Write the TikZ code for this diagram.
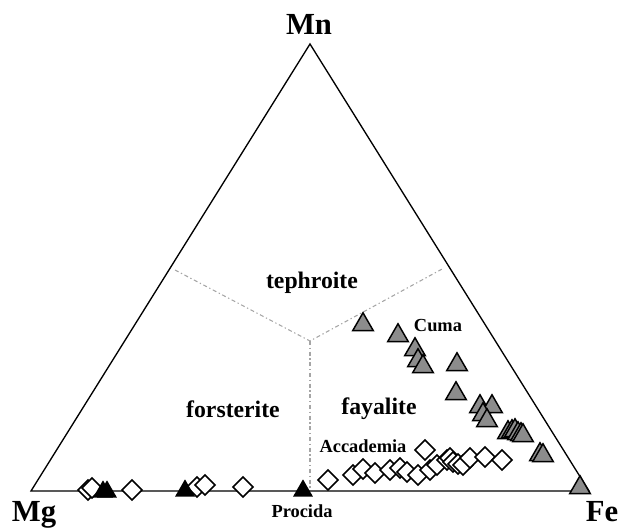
\documentclass[tikz,border=0pt]{standalone}
\usepackage{fontspec}
\setmainfont{Liberation Serif}
\usetikzlibrary{shapes.geometric}

\definecolor{triGray}{RGB}{140,140,140}
\definecolor{fieldLine}{RGB}{165,165,165}

\tikzset{
  dmark/.style={diamond, draw=black, fill=white, line width=1.1pt, inner sep=0pt, minimum width=15.5pt, minimum height=15.5pt},
  gmark/.style={regular polygon, regular polygon sides=3, draw=black, fill=triGray, line width=1.1pt, inner sep=0pt, minimum size=17.8pt, yshift=-2pt},
  bmark/.style={gmark, fill=black, minimum size=15pt, yshift=-1.6pt},
  corner/.style={font=\bfseries\fontsize{23}{26}\selectfont, inner sep=0pt, anchor=base},
  field/.style={font=\bfseries\fontsize{17.8}{20}\selectfont, inner sep=0pt},
  site/.style={font=\bfseries\fontsize{13.8}{16}\selectfont, inner sep=0pt}
}

\begin{document}
\begin{tikzpicture}[x=0.75pt,y=0.75pt,yscale=-1,xscale=1]
        \useasboundingbox (0,0) rectangle (619,531);

        % corners of the ternary
        \coordinate (vMg) at (31,491);
        \coordinate (vFe) at (589,491);
        \coordinate (vMn) at (310,44);
        \draw [line width=1pt] (vMg) -- (vFe) -- (vMn) -- cycle;

        % field boundaries
        \coordinate (ctr) at (310,341);
        \coordinate (bL) at (175,270);
        \coordinate (bR) at (444,268);
        \coordinate (bB) at (310,488);
        \draw [fieldLine, dash pattern=on 3pt off 2pt on 1pt off 2pt, line width=0.8pt] (bL) -- (ctr) -- (bR);
        \draw [fieldLine, dash pattern=on 3pt off 2pt on 1pt off 2pt, line width=0.8pt] (ctr) -- (bB);

        % Accademia and Procida diamonds
        \foreach \px/\py [count=\i] in {88/490, 92/488, 132/490, 197/487, 205/485, 243/487,
            328/480, 353/475, 363/469, 375/473, 390/470, 400/468, 407/472, 418/475, 430/470,
            437/465, 425/450, 447/460, 450/458, 453/462, 458/464, 463/465, 470/458, 485/457, 502/460}
            \node [dmark] (dm\i) at (\px,\py) {};

        % Cuma triangles
        \foreach \px/\py [count=\i] in {363/322, 398/333, 415/347, 418/358, 423/364, 457/362,
            456/391, 480/404, 492/404, 483/412, 487/418, 508/430, 512/429, 515/428, 518/431,
            521/432, 523/433, 540/452, 543/453, 580/485}
            \node [gmark] (tg\i) at (\px,\py) {};

        % Procida triangles
        \foreach \px/\py [count=\i] in {103/487, 107/487, 185/486, 303/486}
            \node [bmark] (tb\i) at (\px,\py) {};

        \node [corner] (lMn) at (309,35) {Mn};
        \node [corner] (lMg) at (34,522) {Mg};
        \node [corner] (lFe) at (602,522) {Fe};

        \node [field] (lTeph) at (312,283) {tephroite};
        \node [field] (lFors) at (233,409) {forsterite};
        \node [field] (lFaya) at (379,409) {fayalite};

        \node [site] (lCuma) at (438,326) {Cuma};
        \node [site] (lAcca) at (363,446) {Accademia};
        \node [site, anchor=base] (lProc) at (302,518) {Procida};
    \end{tikzpicture}
\end{document}
